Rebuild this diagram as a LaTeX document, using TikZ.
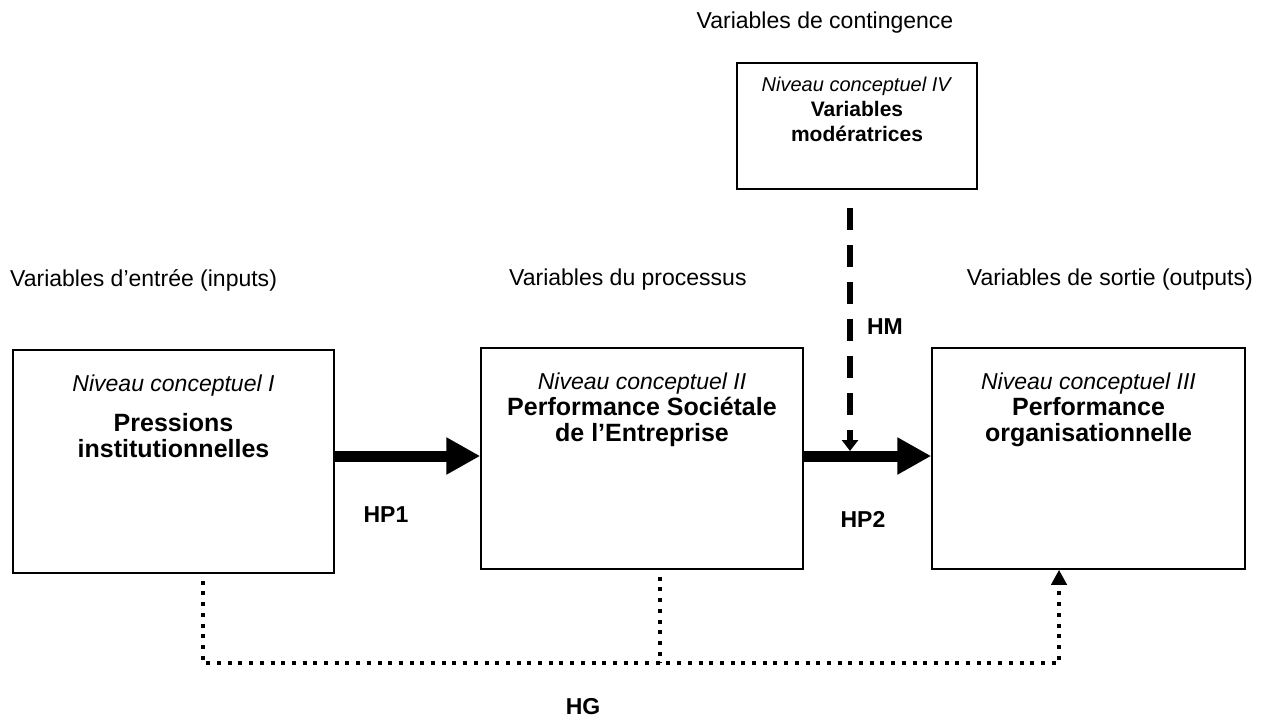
\documentclass[tikz,border=0pt]{standalone}
\usepackage{fontspec}
\setmainfont{Liberation Sans}
\usetikzlibrary{positioning,arrows.meta}

\newcommand\bigbold[1]{{\fontsize{25}{26}\selectfont\bfseries #1}}
\newcommand\smallbold[1]{{\fontsize{21}{25}\selectfont\bfseries #1}}

\begin{document}
\begin{tikzpicture}[x=1pt,y=-1pt,
  cbox/.style={draw,line width=1.5pt,inner sep=0pt},
  boxtext/.style={align=center,inner sep=0pt,font=\fontsize{23}{26}\selectfont},
  vartext/.style={inner sep=0pt,font=\fontsize{23}{26}\selectfont},
  hyp/.style={inner sep=0pt,font=\fontsize{23}{26}\selectfont\bfseries},
  bigarrow/.style={line width=11pt,-{Triangle[length=34pt,width=35pt]}},
  modarrow/.style={line width=6pt,dash pattern=on 22pt off 15pt,-{Triangle[length=11pt,width=16pt]}},
  dotline/.style={line width=4pt,dash pattern=on 4pt off 6.7pt}]

  \useasboundingbox (0,0) rectangle (1268,718);

  %%%%%%%%%%%%%%%%%%%%%%%%%%%%%%%%%%%%%%%%%%
  % Column headings
  \node[vartext] (vcont) at (825,23) {Variables de contingence};
  \node[vartext,anchor=west] (vin) at (10,280) {Variables d’entrée (inputs)};
  \node[vartext,anchor=west] (vproc) at (509,280) {Variables du processus};
  \node[vartext,anchor=east] (vout) at (1253,280) {Variables de sortie (outputs)};

  % Boxes
  \node[cbox,minimum width=321pt,minimum height=223pt] (b1) at (173.5,461.5) {};
  \node[cbox,minimum width=322pt,minimum height=221pt] (b2) at (642,458.5) {};
  \node[cbox,minimum width=313pt,minimum height=221pt] (b3) at (1088.5,458.5) {};
  \node[cbox,minimum width=240pt,minimum height=126pt] (b4) at (857,126) {};

  % Box texts
  \node[boxtext,below=25pt of b1.north] (t1)
    {\textit{Niveau conceptuel I}\\[14pt]\bigbold{Pressions}\\\bigbold{institutionnelles}};
  \node[boxtext,below=25pt of b2.north] (t2)
    {\textit{Niveau conceptuel II}\\\bigbold{Performance Sociétale}\\\bigbold{de l’Entreprise}};
  \node[boxtext,below=25pt of b3.north] (t3)
    {\textit{Niveau conceptuel III}\\\bigbold{Performance}\\\bigbold{organisationnelle}};
  \node[boxtext,font=\fontsize{20}{25}\selectfont,below=15pt of b4.north] (t4)
    {\textit{Niveau conceptuel IV}\\\smallbold{Variables}\\\smallbold{modératrices}};

  % Main arrows
  \coordinate (a) at (0,456);
  \draw[bigarrow] (b1.east |- a) -- (b2.west |- a);
  \draw[bigarrow] (b2.east |- a) -- (b3.west |- a);

  % Moderating effect
  \coordinate (hmtip) at (850,451);
  \draw[modarrow] (b4.south -| hmtip) ++(0,18) -- (hmtip);

  % Global hypothesis
  \coordinate (hgleft) at (203,663);
  \coordinate (hgmid) at (660,663);
  \coordinate (hgright) at (1059,663);
  \draw[dotline,-{Triangle[length=15pt,width=15pt]}]
    (b1.south -| hgleft) ++(0,7) |- (hgright) -- (b3.south -| hgright);
  \draw[dotline] (b2.south -| hgmid) ++(0,7) -- (hgmid);

  % Hypothesis labels
  \node[hyp] (hp1) at (386,515) {HP1};
  \node[hyp] (hp2) at (863,519) {HP2};
  \node[hyp] (hm) at (885,327) {HM};
  \node[hyp] (hg) at (583,707) {HG};

\end{tikzpicture}
\end{document}
